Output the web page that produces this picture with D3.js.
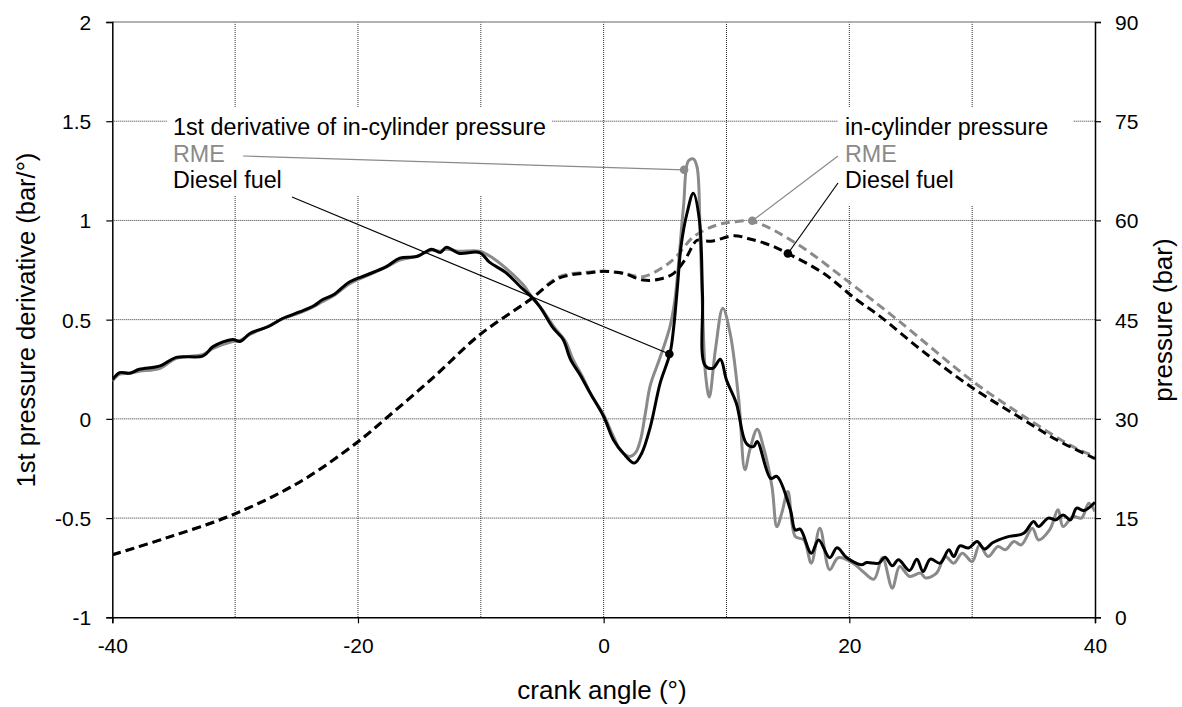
<!DOCTYPE html>
<html><head><meta charset="utf-8">
<script src="https://cdn.jsdelivr.net/npm/d3@7"></script>
<style>body{margin:0;background:#fff}svg{display:block}text{font-family:"Liberation Sans",Arial,sans-serif}</style>
</head><body>
<svg id="c" width="1182" height="707"></svg>
<script>
// ---- data ----
const xTicks = [-40,-20,0,20,40];
const xGrid = [-30,-20,-10,0,10,20,30];
const yLeftTicks = [-1,-0.5,0,0.5,1,1.5,2];
const yRightTicks = [0,15,30,45,60,75,90];

const dieselDeriv = [[-40,0.196],[-39.4,0.233],[-38.6,0.23],[-37.8,0.25],[-36.1,0.267],[-34.8,0.31],[-32.6,0.317],[-31.8,0.364],[-30.2,0.40],[-29.6,0.39],[-28.8,0.43],[-27.2,0.468],[-26.1,0.507],[-24.7,0.54],[-23.6,0.57],[-22.9,0.60],[-22.0,0.625],[-20.7,0.69],[-19.3,0.725],[-17.7,0.767],[-16.6,0.81],[-15.2,0.818],[-14.0,0.855],[-13.3,0.838],[-12.8,0.865],[-11.8,0.835],[-10.1,0.838],[-9.3,0.79],[-7.9,0.734],[-6.8,0.667],[-5.9,0.616],[-5.2,0.566],[-4.1,0.457],[-3.3,0.40],[-2.7,0.30],[-1.9,0.22],[-1.1,0.13],[0,0.012],[0.8,-0.106],[1.6,-0.173],[2.5,-0.223],[3.1,-0.173],[3.8,-0.04],[4.6,0.18],[5.4,0.33],[5.7,0.46],[6.0,0.66],[6.3,0.87],[6.8,1.04],[7.3,1.137],[7.8,1.0],[8.05,0.62],[8.25,0.27],[8.9,0.255],[9.5,0.30],[10.0,0.196],[10.8,0.079],[11.6,-0.122],[12.2,-0.14],[12.5,-0.114],[13.6,-0.30],[14.1,-0.29],[15.2,-0.458],[15.6,-0.56],[16.0,-0.556],[16.9,-0.677],[17.5,-0.61],[18.4,-0.70],[19.0,-0.65],[19.8,-0.70],[21.0,-0.735],[21.4,-0.724],[22.4,-0.727],[22.9,-0.697],[23.5,-0.74],[24.0,-0.71],[24.9,-0.764],[25.5,-0.707],[26.0,-0.769],[26.6,-0.707],[27.4,-0.727],[28.1,-0.66],[28.5,-0.694],[29.0,-0.64],[29.7,-0.651],[30.4,-0.618],[31.0,-0.656],[31.7,-0.623],[32.8,-0.596],[34.2,-0.576],[35.0,-0.517],[35.4,-0.543],[36.2,-0.50],[36.8,-0.509],[37.4,-0.484],[38.0,-0.509],[38.5,-0.45],[39.1,-0.462],[40,-0.42]];

const rmeDeriv = [[-40,0.19],[-39.4,0.225],[-38.6,0.23],[-37.8,0.24],[-36.1,0.255],[-34.8,0.305],[-32.6,0.325],[-31.8,0.355],[-30.2,0.39],[-29.6,0.395],[-28.8,0.425],[-27.2,0.47],[-26.1,0.505],[-24.7,0.535],[-23.6,0.565],[-22.9,0.59],[-22.0,0.62],[-20.7,0.68],[-19.3,0.72],[-17.7,0.765],[-16.6,0.80],[-15.2,0.82],[-14.0,0.85],[-13.3,0.845],[-12.8,0.855],[-11.8,0.845],[-10.1,0.845],[-9.0,0.81],[-7.6,0.74],[-6.5,0.672],[-5.9,0.62],[-5.0,0.55],[-4.0,0.46],[-3.1,0.39],[-2.5,0.30],[-1.7,0.21],[-1.0,0.12],[0,0.02],[0.8,-0.09],[1.4,-0.16],[2.1,-0.19],[2.6,-0.17],[3.0,-0.106],[3.4,0.03],[3.8,0.17],[4.6,0.31],[5.4,0.465],[5.8,0.60],[6.5,1.07],[6.9,1.30],[7.3,1.31],[7.6,1.27],[7.85,0.935],[8.1,0.465],[8.3,0.22],[8.6,0.11],[9.1,0.35],[9.7,0.558],[10.3,0.43],[11.0,0.096],[11.5,-0.257],[11.9,-0.156],[12.5,-0.052],[13.0,-0.14],[13.7,-0.34],[14.1,-0.543],[14.5,-0.475],[15.0,-0.366],[15.6,-0.593],[16.3,-0.61],[16.9,-0.727],[17.6,-0.551],[18.4,-0.76],[19.1,-0.70],[20.3,-0.727],[21.1,-0.769],[22.0,-0.808],[22.7,-0.70],[23.5,-0.853],[24.1,-0.744],[24.9,-0.794],[25.8,-0.777],[26.2,-0.802],[27.1,-0.777],[27.8,-0.694],[28.5,-0.727],[29.2,-0.677],[30.0,-0.719],[30.6,-0.635],[31.3,-0.694],[32.1,-0.643],[32.7,-0.66],[33.4,-0.618],[34.0,-0.635],[34.9,-0.551],[35.4,-0.61],[36.3,-0.56],[37.0,-0.458],[37.4,-0.543],[38.2,-0.492],[38.9,-0.50],[39.5,-0.425],[40,-0.467]];

const dieselPressure = [[-40,9.45],[-35.6,12],[-30.2,15.5],[-24.7,20.5],[-20.1,26.4],[-17.7,30.1],[-13.9,36.2],[-10.1,42.7],[-6.0,48],[-3.6,51.3],[-1.1,52.1],[0,52.3],[1.6,52.0],[3.2,51.0],[4.5,51.1],[5.7,52],[6.6,54],[7.6,57],[8.1,56.9],[8.9,56.9],[10.6,57.7],[11.9,57.2],[13.5,56.3],[15.0,55],[17.9,52],[20.6,48],[22.5,45.5],[26,40.2],[30.1,34.6],[34.2,29.85],[36.9,26.8],[40,24]];

const rmePressure = [[-40,9.45],[-35.6,12],[-30.2,15.5],[-24.7,20.5],[-20.1,26.4],[-17.7,30.1],[-13.9,36.2],[-10.1,42.7],[-6.0,48],[-3.6,51.5],[-1.1,52.2],[0,52.3],[1.6,52.0],[3.2,51.5],[4.9,53],[5.9,54.5],[7.3,57.5],[9.2,59.3],[10.6,59.8],[12.2,59.8],[15.7,56.5],[20.1,50.5],[23.9,45],[30.1,35.6],[34.2,30.4],[38.2,25.8],[40,24.3]];

// annotation anchors (data coordinates)
const rmeDerivAnchor = [6.55, 1.255];
const dieselDerivAnchor = [5.35, 0.327];
const rmePressAnchor = [12.1, 59.95];
const dieselPressAnchor = [15.0, 55.0];

// ---- layout ----
const L = 112.3, R = 1095, T = 22, B = 617.3;
const svg = d3.select("#c");
const x = d3.scaleLinear().domain([-40,40]).range([L,R]);
const yL = d3.scaleLinear().domain([-1,2]).range([B,T]);
const yR = d3.scaleLinear().domain([0,90]).range([B,T]);
const GREY = "#8a8a8a";

// grid
const g = svg.append("g");
g.selectAll(".vg").data(xGrid).join("line")
  .attr("x1",d=>x(d)).attr("x2",d=>x(d)).attr("y1",T).attr("y2",B)
  .attr("stroke","#333").attr("stroke-width",1).attr("stroke-dasharray","1,1");
g.selectAll(".hg").data([-0.5,0,0.5,1,1.5]).join("line")
  .attr("x1",L).attr("x2",R).attr("y1",d=>yL(d)).attr("y2",d=>yL(d))
  .attr("stroke","#333").attr("stroke-width",1).attr("stroke-dasharray","1,1");
// top border
svg.append("line").attr("x1",L).attr("x2",R).attr("y1",T).attr("y2",T).attr("stroke","#999").attr("stroke-width",1.5);

// white label boxes
svg.append("rect").attr("x",167).attr("y",108).attr("width",385).attr("height",88).attr("fill","#fff");
svg.append("rect").attr("x",838).attr("y",107).attr("width",235).attr("height",98).attr("fill","#fff");

// axes
const fs = "21px";
const axB = svg.append("g").attr("transform",`translate(0,${B})`)
  .call(d3.axisBottom(x).tickValues(xTicks).tickSize(6).tickFormat(d=>String(d)));
const axL = svg.append("g").attr("transform",`translate(${L},0)`)
  .call(d3.axisLeft(yL).tickValues(yLeftTicks).tickSize(6).tickFormat(d=>String(d)));
const axR = svg.append("g").attr("transform",`translate(${R},0)`)
  .call(d3.axisRight(yR).tickValues(yRightTicks).tickSize(6).tickFormat(d=>String(d)));
[axB,axL,axR].forEach(a=>{
  a.selectAll("path").attr("stroke","#000").attr("stroke-width",1.5);
  a.selectAll("line").attr("stroke","#000").attr("stroke-width",1.2);
  a.selectAll("text").attr("font-size",fs).attr("fill","#000").attr("font-family","Liberation Sans, Arial, sans-serif");
});
axB.selectAll("text").attr("dy",null).attr("y",36);
axL.selectAll("text").attr("x",-21).attr("dy","0.36em");
axR.selectAll("text").attr("x",20).attr("dy","0.36em");

// axis titles
svg.append("text").attr("x",602).attr("y",699).attr("text-anchor","middle").attr("font-size","26px").text("crank angle (°)");
svg.append("text").attr("transform","translate(35,320) rotate(-90)").attr("text-anchor","middle").attr("font-size","25.5px").text("1st pressure derivative (bar/°)");
svg.append("text").attr("transform","translate(1172,320) rotate(-90)").attr("text-anchor","middle").attr("font-size","26px").text("pressure (bar)");

// curves
const lineL = d3.line().x(d=>x(d[0])).y(d=>yL(d[1])).curve(d3.curveCatmullRom.alpha(0.5));
const lineR = d3.line().x(d=>x(d[0])).y(d=>yR(d[1])).curve(d3.curveCatmullRom.alpha(0.5));
svg.append("clipPath").attr("id","clp").append("rect").attr("x",L).attr("y",T).attr("width",R-L).attr("height",B-T);
const cg = svg.append("g").attr("clip-path","url(#clp)");
cg.append("path").attr("d",lineR(rmePressure)).attr("fill","none").attr("stroke",GREY).attr("stroke-width",3).attr("stroke-dasharray","9,5");
cg.append("path").attr("d",lineR(dieselPressure)).attr("fill","none").attr("stroke","#000").attr("stroke-width",3).attr("stroke-dasharray","9,5");
cg.append("path").attr("d",lineL(rmeDeriv)).attr("fill","none").attr("stroke",GREY).attr("stroke-width",3).attr("stroke-linejoin","round");
cg.append("path").attr("d",lineL(dieselDeriv)).attr("fill","none").attr("stroke","#000").attr("stroke-width",3).attr("stroke-linejoin","round");

// annotations
function label(xp, lines){
  lines.forEach((l,i)=>{
    svg.append("text").attr("x",xp).attr("y",135+i*26.7).attr("font-size","23.3px").attr("fill",l[1]).text(l[0]);
  });
}
label(173,[["1st derivative of in-cylinder pressure","#000"],["RME",GREY],["Diesel fuel","#000"]]);
label(845,[["in-cylinder pressure","#000"],["RME",GREY],["Diesel fuel","#000"]]);

function leader(x0,y0,px,py,col){
  svg.append("line").attr("x1",x0).attr("y1",y0).attr("x2",px).attr("y2",py).attr("stroke",col).attr("stroke-width",1.2);
  svg.append("circle").attr("cx",px).attr("cy",py).attr("r",4.3).attr("fill",col);
}
leader(243,156,x(rmeDerivAnchor[0]),yL(rmeDerivAnchor[1]),GREY);
leader(292,197,x(dieselDerivAnchor[0]),yL(dieselDerivAnchor[1]),"#000");
leader(838,156,x(rmePressAnchor[0]),yR(rmePressAnchor[1]),GREY);
leader(838,183,x(dieselPressAnchor[0]),yR(dieselPressAnchor[1]),"#000");
</script>
</body></html>
